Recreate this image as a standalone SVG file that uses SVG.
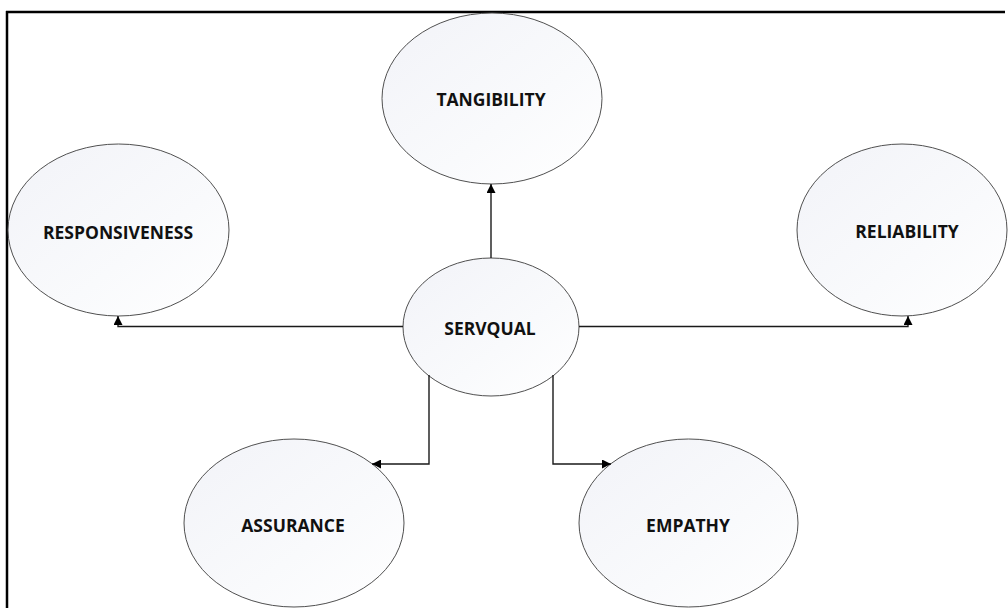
<svg xmlns="http://www.w3.org/2000/svg" width="1008" height="608" viewBox="0 0 1008 608">
<style>
.node{fill:url(#g);stroke:#505050;stroke-width:1}
.lbl{font-family:"Open Sans","Liberation Sans",sans-serif;font-weight:700;font-size:17.5px;fill:#111;text-anchor:middle;dominant-baseline:central}
.conn{fill:none;stroke:#1a1a1a;stroke-width:1.4}
</style>
<defs>
<linearGradient id="g" x1="0" y1="0" x2="1" y2="1">
<stop offset="0" stop-color="#f2f3f8"/>
<stop offset="0.6" stop-color="#f9fafc"/>
<stop offset="1" stop-color="#ffffff"/>
</linearGradient>
<marker id="ah" viewBox="0 0 10 10" refX="10" refY="5" markerWidth="9" markerHeight="9" markerUnits="userSpaceOnUse" orient="auto">
<path d="M0,0 L10,5 L0,10 z" fill="#000"/>
</marker>
</defs>
<rect width="1008" height="608" fill="#fff"/>
<g id="frame">
<line x1="6" y1="12" x2="1005" y2="12" stroke="#000" stroke-width="2.5"/>
<line x1="7" y1="11" x2="7" y2="608" stroke="#000" stroke-width="2.5"/>
</g>
<g id="tangibility"><ellipse class="node" cx="492" cy="98.5" rx="110" ry="85.5"/><text class="lbl" x="491" y="99">TANGIBILITY</text></g>
<g id="responsiveness"><ellipse class="node" cx="118.5" cy="230" rx="110.5" ry="86"/><text class="lbl" x="118" y="232">RESPONSIVENESS</text></g>
<g id="reliability"><ellipse class="node" cx="902" cy="230" rx="105" ry="86"/><text class="lbl" x="907" y="231">RELIABILITY</text></g>
<g id="servqual"><ellipse class="node" cx="491" cy="327" rx="88" ry="69"/><text class="lbl" x="490" y="328">SERVQUAL</text></g>
<g id="assurance"><ellipse class="node" cx="294" cy="523" rx="110" ry="84"/><text class="lbl" x="293" y="525">ASSURANCE</text></g>
<g id="empathy"><ellipse class="node" cx="688.5" cy="523" rx="109.5" ry="84"/><text class="lbl" x="688" y="525">EMPATHY</text></g>
<g id="connectors">
<path class="conn" d="M491,258 V184" marker-end="url(#ah)"/>
<path class="conn" d="M403,326.5 H118 V316" marker-end="url(#ah)"/>
<path class="conn" d="M579,326.5 H908 V316" marker-end="url(#ah)"/>
<path class="conn" d="M429,375 V464 H372" marker-end="url(#ah)"/>
<path class="conn" d="M553,375 V464 H611" marker-end="url(#ah)"/>
</g>
</svg>
